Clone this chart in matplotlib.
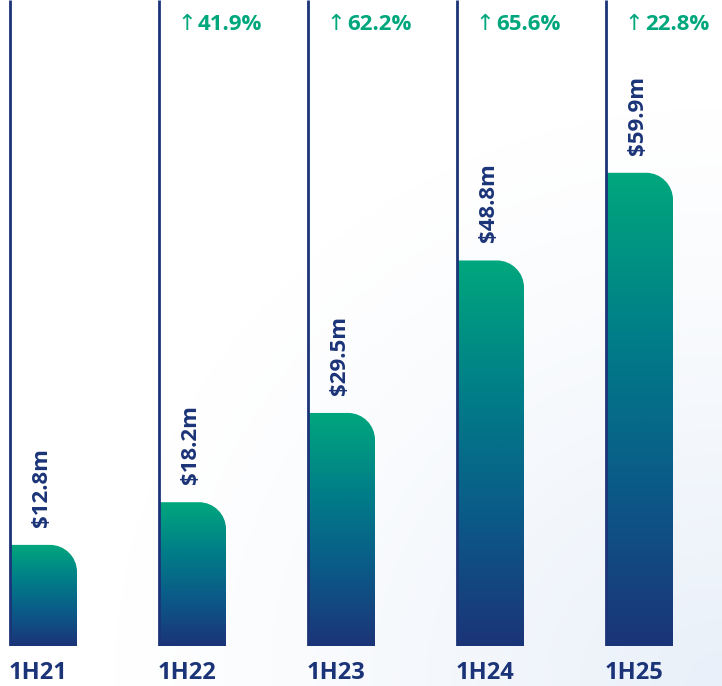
import numpy as np
import matplotlib
matplotlib.use("Agg")
import matplotlib.pyplot as plt
from matplotlib.path import Path
from matplotlib.patches import PathPatch
from matplotlib.colors import LinearSegmentedColormap

categories = ["1H21", "1H22", "1H23", "1H24", "1H25"]
values = [12.8, 18.2, 29.5, 48.8, 59.9]
value_labels = ["$12.8m", "$18.2m", "$29.5m", "$48.8m", "$59.9m"]
growth_labels = ["", "41.9%", "62.2%", "65.6%", "22.8%"]

NAVY = "#1b3478"
GREEN = "#00a77d"
W, H = 722, 686
fig = plt.figure(figsize=(W / 100, H / 100), dpi=100)

# subtle background gradient (bottom-right corner)
bg = fig.add_axes([0, 0, 1, 1])
yy, xx = np.mgrid[0:1:300j, 0:1:300j]
d = np.sqrt((1 - xx) ** 2 + yy ** 2)
g = np.clip(1 - d / 0.85, 0, 1) ** 1.2
bgcmap = LinearSegmentedColormap.from_list("bg", ["#ffffff", "#e9f0f9"])
bg.imshow(g, cmap=bgcmap, aspect="auto", extent=[0, 1, 0, 1], origin="lower", vmin=0, vmax=1)
bg.axis("off")

bottom_px = 40
ax = fig.add_axes([0, bottom_px / H, 1, (H - bottom_px) / H])
ax.patch.set_alpha(0)
px_per_unit = 7.9
ymax = (H - bottom_px) / px_per_unit
step = 149.0
first_left = 10.0
bar_w_px = 67.0
bw = bar_w_px / step
ax.set_xlim(-first_left / step, (W - first_left) / step)
ax.set_ylim(0, ymax)
ax.axis("off")

rx = 27 / step
ry = 27 / px_per_unit
cmap = LinearSegmentedColormap.from_list("g", [NAVY, "#0b5a88", "#007f88", GREEN])
grad = np.linspace(0, 1, 256).reshape(-1, 1)
k = 0.5523

for i, (v, vl, gl, cat) in enumerate(zip(values, value_labels, growth_labels, categories)):
    x0 = float(i)
    x1 = x0 + bw
    verts = [
        (x0, 0), (x0, v), (x1 - rx, v),
        (x1 - rx + k * rx, v), (x1, v - ry + k * ry), (x1, v - ry),
        (x1, 0), (x0, 0),
    ]
    codes = [Path.MOVETO, Path.LINETO, Path.LINETO,
             Path.CURVE4, Path.CURVE4, Path.CURVE4,
             Path.LINETO, Path.CLOSEPOLY]
    patch = PathPatch(Path(verts, codes), facecolor="none", edgecolor="none")
    ax.add_patch(patch)
    im = ax.imshow(grad, cmap=cmap, aspect="auto", extent=[x0, x1, 0, v], origin="lower", zorder=2)
    im.set_clip_path(patch)
    # vertical line
    ax.plot([x0, x0], [0, ymax], color=NAVY, lw=2, zorder=3, solid_capstyle="butt")
    # value label
    ax.text(x0 + bw * 0.47, v + 18 / px_per_unit, vl, rotation=90, ha="center", va="bottom",
            color=NAVY, fontsize=16, fontweight="bold", family="Open Sans", zorder=4)
    # growth label
    if gl:
        ax.text(x0 + 18 / step, ymax - 24 / px_per_unit, "↑", ha="left", va="center",
                color=GREEN, fontsize=16, family="DejaVu Sans")
        ax.text(x0 + 39 / step, ymax - 24 / px_per_unit, gl, ha="left", va="center",
                color=GREEN, fontsize=16, fontweight="bold", family="Open Sans")
    ax.text(x0 - 1 / step, -27 / px_per_unit, cat, ha="left", va="center", color=NAVY,
            fontsize=17, fontweight="bold", family="Open Sans", clip_on=False)

fig.savefig("out.png", dpi=100)
